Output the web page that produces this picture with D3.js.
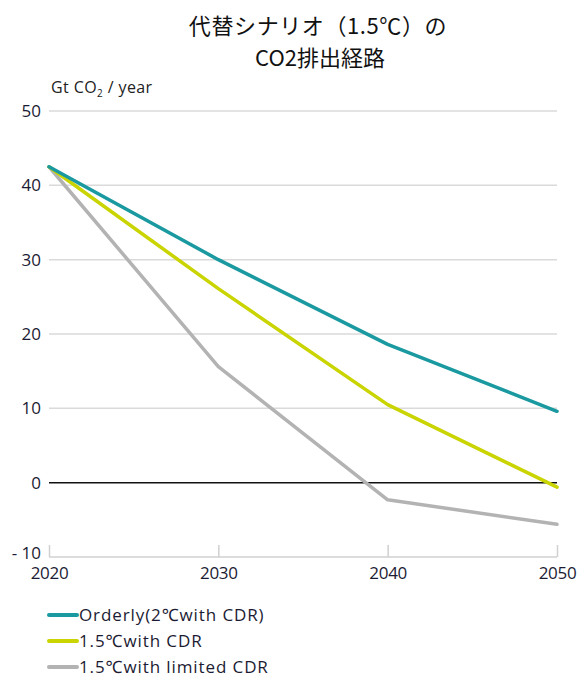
<!DOCTYPE html>
<html><head><meta charset="utf-8">
<script src="https://cdn.jsdelivr.net/npm/d3@7"></script>
<style>body{margin:0;background:#fff}</style>
</head><body>
<svg id="c" width="578" height="679"></svg>
<script>
const years = [2020, 2030, 2040, 2050];
const orderly = [42.5, 30.0, 18.6, 9.6];
const cdr15 = [42.5, 26.1, 10.5, -0.6];
const limited15 = [42.5, 15.6, -2.3, -5.6];
const seriesNames = ["Orderly(2℃with CDR)", "1.5℃with CDR", "1.5℃with limited CDR"];
const seriesColors = ["#1a9aa0", "#c9d400", "#b3b3b3"];
const yTicks = [-10, 0, 10, 20, 30, 40, 50];
const yTickLabels = ["- 10", "0", "10", "20", "30", "40", "50"];
const xTicks = [2020, 2030, 2040, 2050];

const svg = d3.select("#c");
const font = "'Open Sans', 'Noto Sans', sans-serif";
const x = d3.scaleLinear().domain([2020, 2050]).range([49, 557]);
const y = d3.scaleLinear().domain([-10, 50]).range([557, 111]);

// title
const t = svg.append("text").attr("text-anchor", "middle").attr("font-family", "'Noto Sans CJK JP', sans-serif")
  .attr("font-size", 22).attr("fill", "#111");
t.append("tspan").attr("x", 318).attr("y", 34).attr("letter-spacing", 0.6).text("代替シナリオ（1.5℃）の");
t.append("tspan").attr("x", 320).attr("y", 66).text("CO2排出経路");

// y label
const yl = svg.append("text").attr("x", 51).attr("y", 93).attr("font-family", font).attr("font-size", 16)
  .attr("fill", "#222").attr("letter-spacing", 0.4);
yl.append("tspan").text("Gt CO");
yl.append("tspan").attr("font-size", 10).attr("dy", 4).text("2");
yl.append("tspan").attr("dy", -4).text(" / year");

// gridlines
svg.append("g").selectAll("line").data(yTicks.filter(d => d > 0)).join("line")
  .attr("x1", 49).attr("x2", 557).attr("y1", d => y(d)).attr("y2", d => y(d))
  .attr("stroke", "#dadada").attr("stroke-width", 1.5);

// y tick labels
svg.append("g").selectAll("text").data(yTicks).join("text")
  .attr("x", 41).attr("y", d => y(d) + (d === -10 ? 2 : 6)).attr("text-anchor", "end")
  .attr("font-family", font).attr("font-size", 17).attr("fill", "#1b1b33")
  .text((d, i) => yTickLabels[i]);

// x axis
const xAxis = d3.axisBottom(x).tickValues(xTicks).tickSize(-12).tickFormat(d3.format("d"));
const xg = svg.append("g").attr("transform", `translate(0,${y(-10)})`).call(xAxis);
xg.select(".domain").attr("stroke", "#d0d0d0").attr("stroke-width", 1.5).attr("d", `M49,0H557`);
xg.selectAll(".tick line").attr("stroke", "#d0d0d0").attr("stroke-width", 1.5);
xg.selectAll(".tick text").attr("font-family", font).attr("font-size", 17).attr("fill", "#1b1b33")
  .attr("y", 22).attr("dy", 0).attr("letter-spacing", -0.3);

// zero line
svg.append("line").attr("x1", 49).attr("x2", 557).attr("y1", y(0)).attr("y2", y(0))
  .attr("stroke", "#111").attr("stroke-width", 1.5);

// lines
const data = [orderly, cdr15, limited15];
const line = d3.line().x((d, i) => x(years[i])).y(d => y(d));
svg.append("g").selectAll("path").data([2, 1, 0]).join("path")
  .attr("d", i => line(data[i])).attr("fill", "none")
  .attr("stroke", i => seriesColors[i]).attr("stroke-width", 3.5)
  .attr("stroke-linejoin", "round").attr("stroke-linecap", "round");

// legend
const lg = svg.append("g").selectAll("g").data(seriesNames).join("g")
  .attr("transform", (d, i) => `translate(0,${615 + i * 26})`);
lg.append("line").attr("x1", 49).attr("x2", 77).attr("stroke", (d, i) => seriesColors[i])
  .attr("stroke-width", 4).attr("stroke-linecap", "round");
lg.append("text").attr("x", 79).attr("y", 6).attr("font-family", font).attr("font-size", 17)
  .attr("fill", "#1b1b33").attr("letter-spacing", 0.9).text(d => d);
</script>
</body></html>
